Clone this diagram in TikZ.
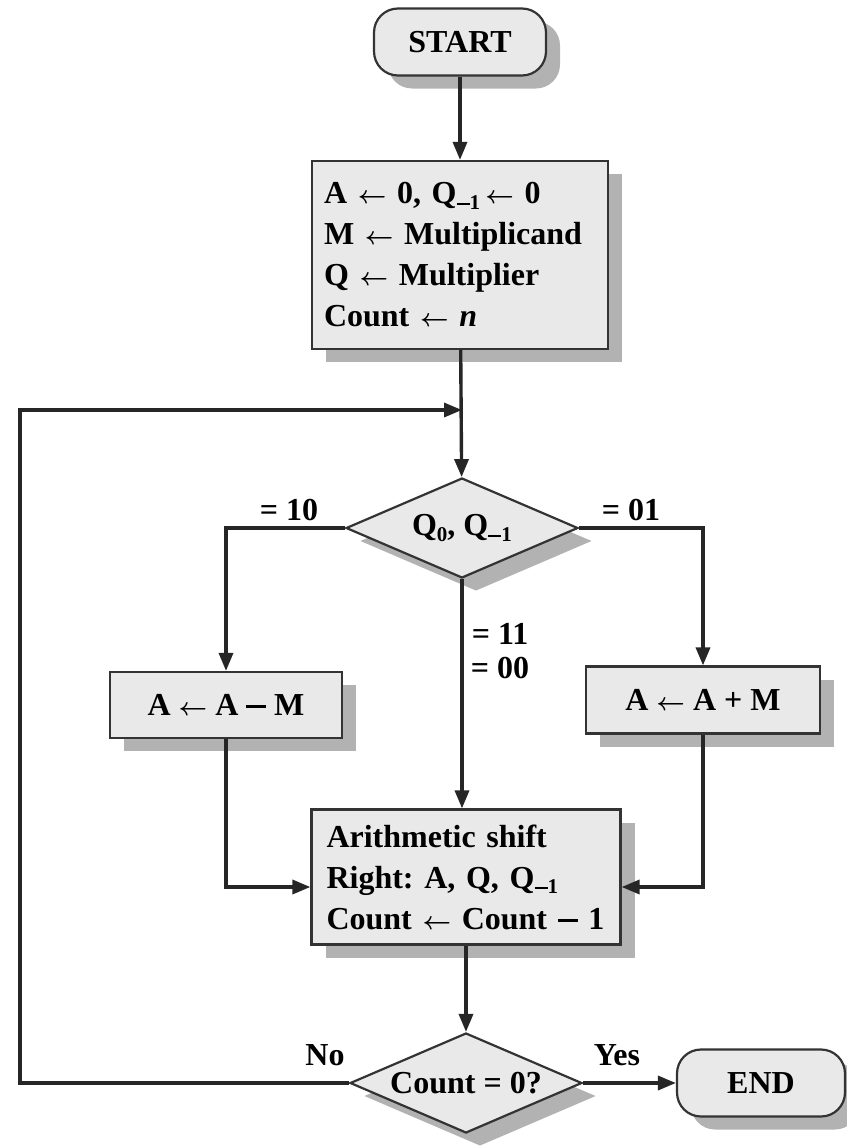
\documentclass[tikz,border=0pt]{standalone}
\usepackage{fontspec}
\setmainfont{Liberation Serif}
\usetikzlibrary{shapes.geometric,shadows,arrows.meta,calc}
\newcommand{\lsub}[1]{\raisebox{-0.4ex}{\fontsize{21}{21}\selectfont #1}}
\newcommand{\lar}{$\leftarrow$}
\newcommand{\mmin}{\raisebox{0.23em}{\rule{0.62em}{0.085em}}}
\frenchspacing
\begin{document}
\begin{tikzpicture}[x=1pt,y=-1pt,
  font=\fontsize{32}{41}\selectfont\bfseries\boldmath,
  shade/.style={drop shadow={shadow xshift=14pt,shadow yshift=-13pt,fill=gray!60,opacity=1}},
  box/.style={draw=black!80, line width=2.2pt, fill=gray!17, shade},
  termbox/.style={box, rounded corners=24pt, minimum width=172pt, minimum height=67pt},
  decbox/.style={box, diamond, aspect=2.3, inner sep=0pt, minimum width=232pt, minimum height=100pt},
  flow/.style={line width=3.4pt, draw=black!85, -{Triangle[length=18pt,width=14pt]}},
  lbl/.style={font=\fontsize{32}{34}\selectfont\bfseries}]
\useasboundingbox (0,0) rectangle (846,1148);

\node[termbox] (start) at (460,42) {START};
\node[box, minimum width=296pt, minimum height=188pt, text width=272pt, align=left, inner xsep=12pt] (init) at (460,255)
 {A \lar\ 0, Q\lsub{\mmin1}\,\lar\ 0\\M \lar\ Multiplicand\\Q \lar\ Multiplier\\Count \lar\ \textit{n}};
\node[decbox] (q) at (462,528) {Q\lsub{0}, Q\lsub{\mmin1}};
\node[box, minimum width=232pt, minimum height=66pt] (am) at (226,705) {A \lar\ A \mmin\ M};
\node[box, minimum width=234pt, minimum height=67pt] (ap) at (703,700) {A \lar\ A + M};
\node[box, minimum width=309pt, minimum height=135pt, text width=287pt, align=left, inner xsep=11pt] (sh) at (466,877)
 {\hspace*{4pt}Arithmetic shift\\\hspace*{4pt}Right: A, Q, Q\lsub{\mmin1}\\\hspace*{4pt}Count \lar\ Count \mmin\ 1};
\node[decbox] (cnt) at (466,1083) {Count = 0?};
\node[termbox, minimum width=168pt] (end) at (761,1083) {END};

\coordinate (join) at (462,410);
\coordinate (lb) at (20,1083);

\draw[flow] (start) -- (init);
\draw[flow] (init) -- (q);
\draw[flow] (q.west) -| (am.north);
\draw[flow] (q.east) -| (ap.north);
\draw[flow] (q.south) -- (q.south |- sh.north);
\draw[flow] (am.south) |- ($(sh.west)+(0,10)$);
\draw[flow] (ap.south) |- ($(sh.east)+(0,10)$);
\draw[flow] (sh.south -| cnt.north) -- (cnt.north);
\draw[flow] (cnt) -- (end);
\draw[flow] (cnt.west) -- (lb) |- (join);

\node[lbl] (l10) at (289,510) {= 10};
\node[lbl] (l01) at (631,510) {= 01};
\node[lbl] (l11) at (500,634) {= 11};
\node[lbl] (l00) at (500,668) {= 00};
\node[lbl] (lno) at (325,1055) {No};
\node[lbl] (lyes) at (617,1055) {Yes};
\end{tikzpicture}
\end{document}
